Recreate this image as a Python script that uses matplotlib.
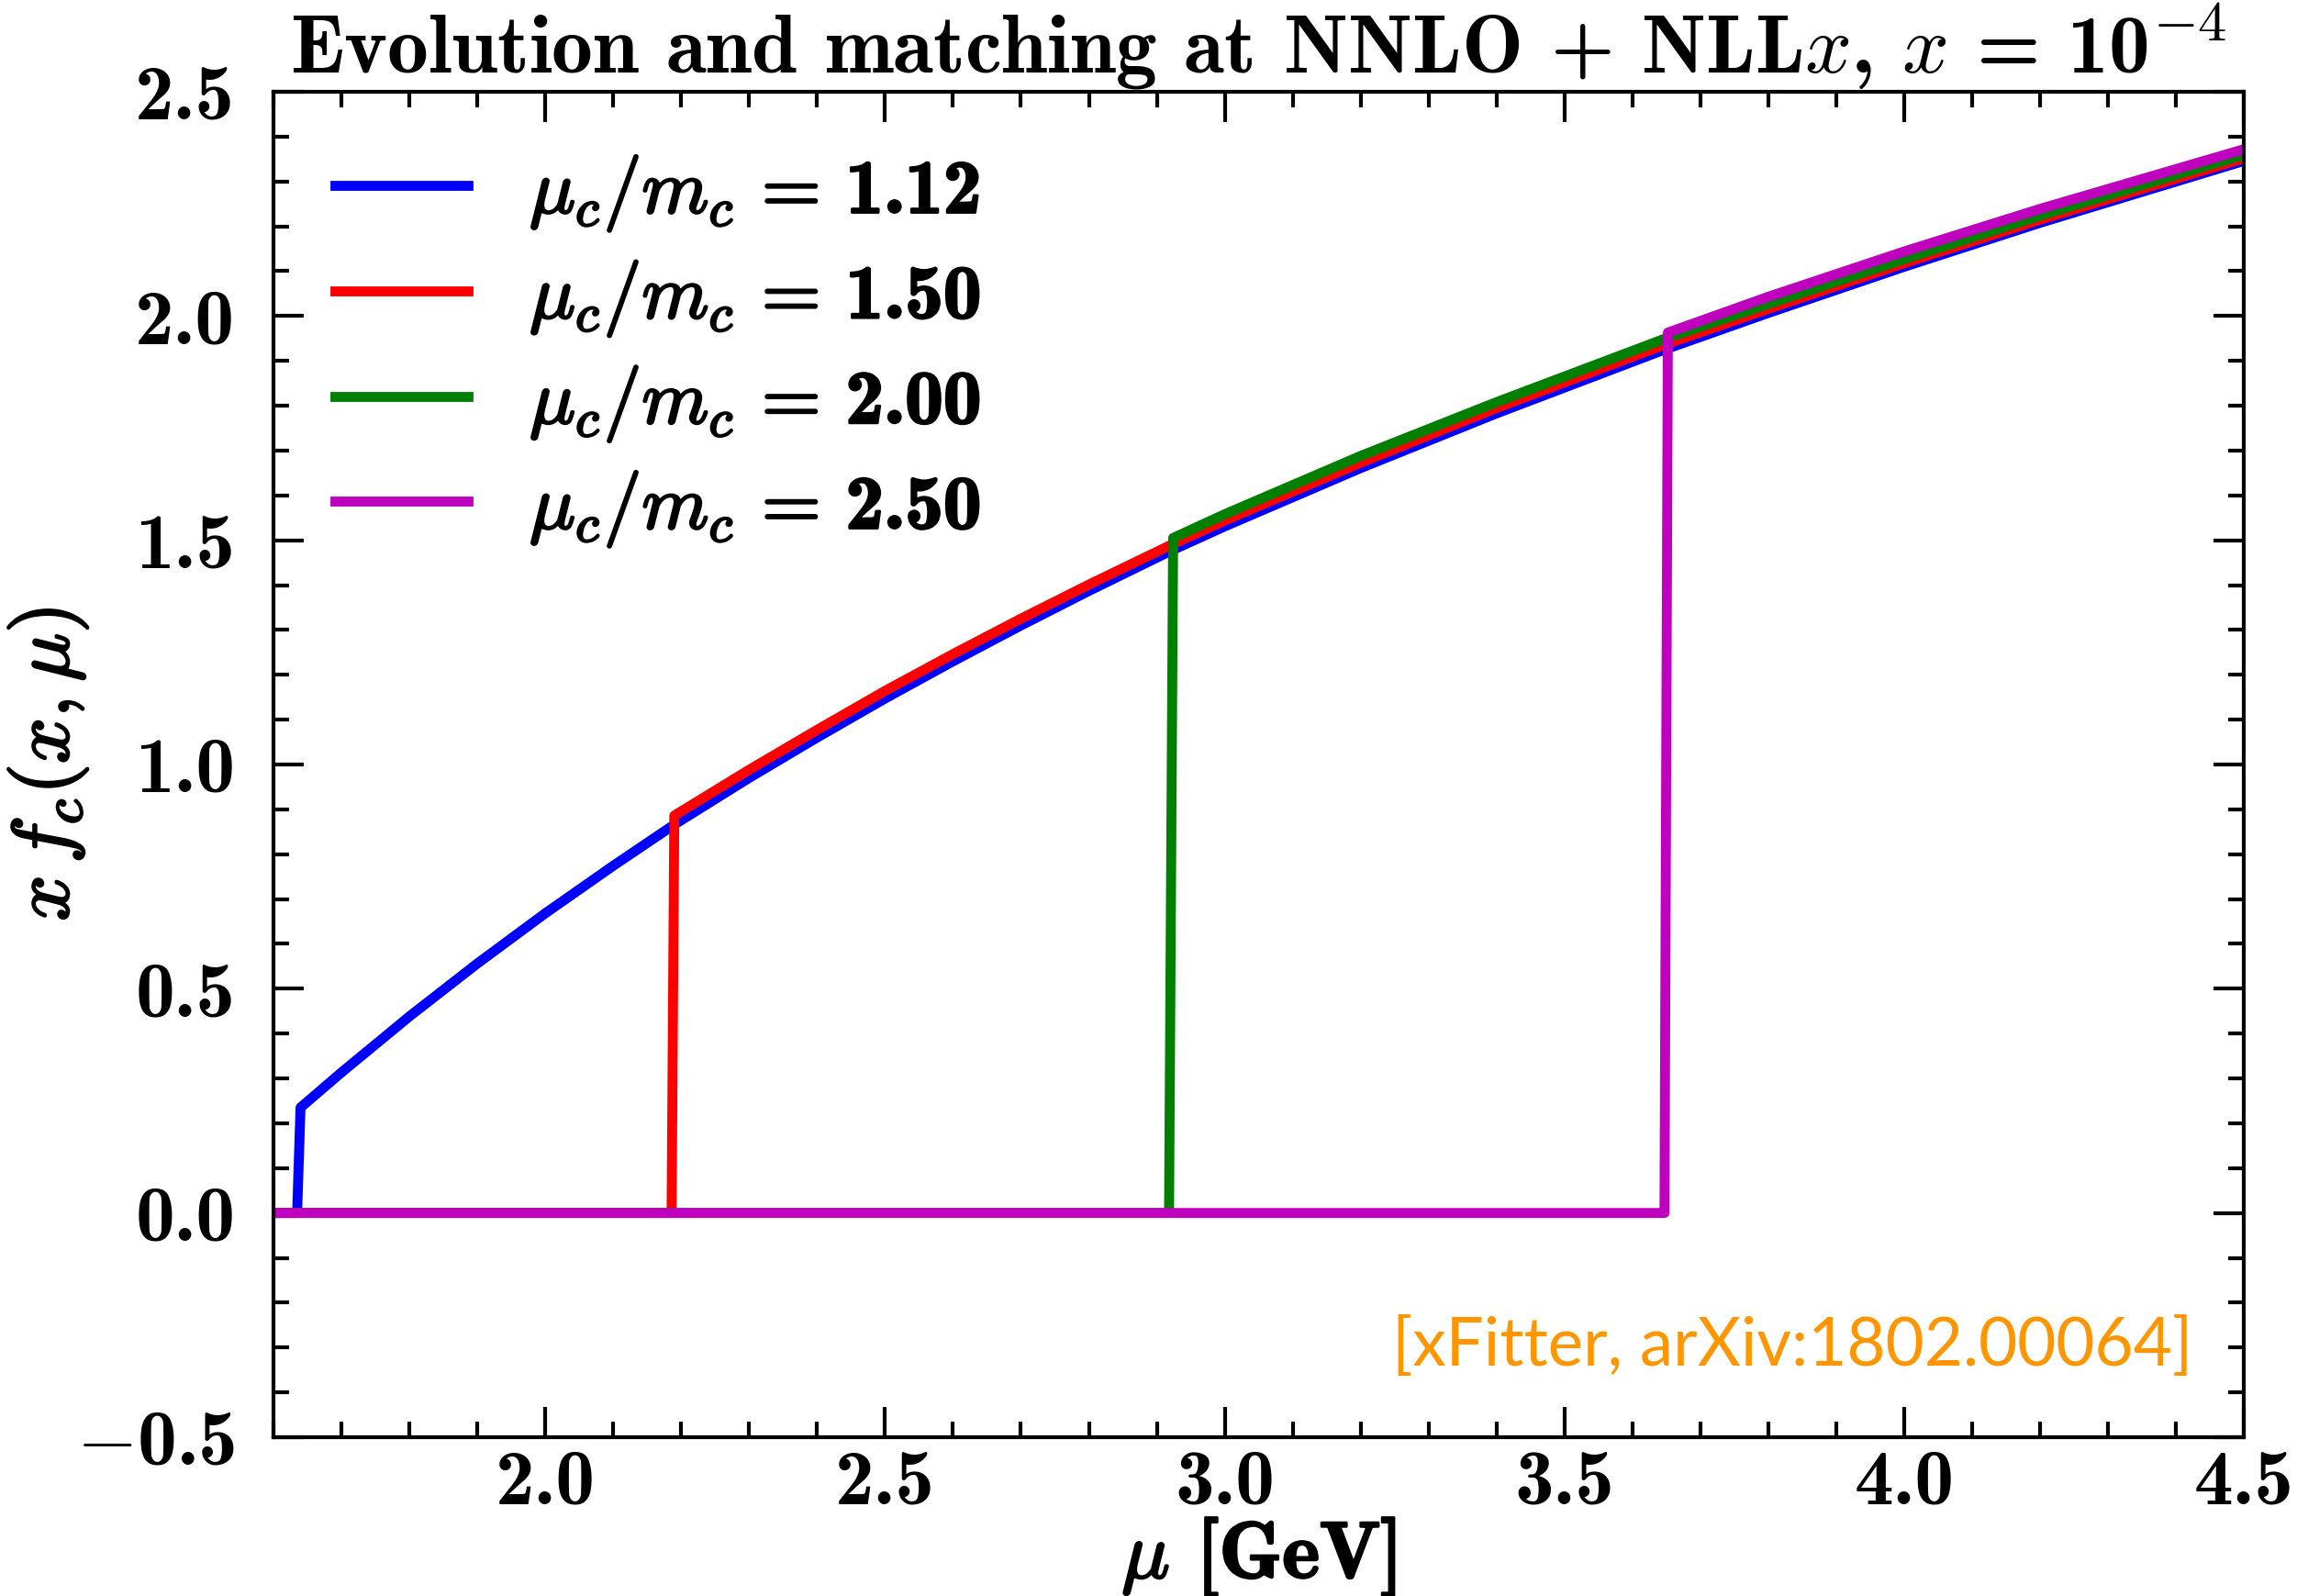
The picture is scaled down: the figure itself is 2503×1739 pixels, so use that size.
import matplotlib
matplotlib.use("Agg")
import matplotlib.pyplot as plt
import matplotlib.patheffects as pe
from matplotlib.ticker import MultipleLocator, FuncFormatter

# ==========================================
# 1. DATA: x f_c(x, mu) at x = 1e-4 for four matching scales
# ==========================================
LABELS = ["1.12", "1.50", "2.00", "2.50"]
COLORS = ["b", "r", "g", "m"]

# mu_c / m_c = 1.12
mu_112 = [1.600, 1.635, 1.640, 1.700, 1.800, 1.900, 2.000, 2.100, 2.190, 2.300,
          2.400, 2.500, 2.600, 2.700, 2.800, 2.920, 3.000, 3.200, 3.400, 3.645,
          3.800, 4.000, 4.200, 4.500]
xf_112 = [0.000, 0.000, 0.235, 0.313, 0.438, 0.556, 0.668, 0.774, 0.866, 0.970,
          1.060, 1.147, 1.230, 1.310, 1.387, 1.476, 1.531, 1.661, 1.783, 1.924,
          2.007, 2.110, 2.208, 2.346]

# mu_c / m_c = 1.50
mu_150 = [1.600, 2.186, 2.190, 2.300, 2.400, 2.500, 2.600, 2.700, 2.800, 2.920,
          3.000, 3.200, 3.400, 3.645, 3.800, 4.000, 4.200, 4.500]
xf_150 = [0.000, 0.000, 0.886, 0.988, 1.077, 1.164, 1.246, 1.325, 1.401, 1.489,
          1.544, 1.673, 1.795, 1.935, 2.016, 2.118, 2.215, 2.352]

# mu_c / m_c = 2.00
mu_200 = [1.600, 2.918, 2.924, 3.000, 3.200, 3.400, 3.645, 3.800, 4.000, 4.200, 4.500]
xf_200 = [0.000, 0.000, 1.505, 1.558, 1.688, 1.808, 1.948, 2.027, 2.127, 2.224, 2.360]

# mu_c / m_c = 2.50
mu_250 = [1.600, 3.647, 3.652, 3.800, 4.000, 4.200, 4.500]
xf_250 = [0.000, 0.000, 1.963, 2.043, 2.144, 2.239, 2.372]

CURVES = [(mu_112, xf_112), (mu_150, xf_150), (mu_200, xf_200), (mu_250, xf_250)]

# ==========================================
# 2. STYLE
# ==========================================
plt.rcParams["mathtext.fontset"] = "cm"
plt.rcParams["font.family"] = "serif"
plt.rcParams["font.serif"] = ["cmb10", "DejaVu Serif"]
plt.rcParams["axes.unicode_minus"] = False

TICK_FS = 20.5
LEG_FS = 20
bold_stroke = [pe.withStroke(linewidth=0.6, foreground="black")]


def tick_fmt(v, pos):
    # bold digits, math minus sign for negatives
    if v < 0:
        return r"$-$%.1f" % abs(v)
    return "%.1f" % v


# ==========================================
# 3. FIGURE
# ==========================================
fig = plt.figure(figsize=(2503 / 300, 1739 / 300), dpi=300)
ax = fig.add_axes([0.119, 0.0995, 0.858, 0.843])

for (mu, xf), lab, col in zip(CURVES, LABELS, COLORS):
    ax.plot(mu, xf, color=col, lw=2.6, label=r"$\mu_c/m_c\,=\,$" + lab)

ax.set_xlim(1.6, 4.5)
ax.set_ylim(-0.5, 2.5)

ax.xaxis.set_major_locator(MultipleLocator(0.5))
ax.xaxis.set_minor_locator(MultipleLocator(0.1))
ax.yaxis.set_major_locator(MultipleLocator(0.5))
ax.yaxis.set_minor_locator(MultipleLocator(0.1))
ax.xaxis.set_major_formatter(FuncFormatter(tick_fmt))
ax.yaxis.set_major_formatter(FuncFormatter(tick_fmt))

ax.tick_params(which="both", direction="in", top=True, right=True, width=1.0)
ax.tick_params(which="major", length=8, labelsize=TICK_FS)
ax.tick_params(which="minor", length=4)
ax.tick_params(axis="x", which="major", pad=3)
ax.tick_params(axis="y", which="major", pad=10)
for sp in ax.spines.values():
    sp.set_linewidth(1.0)

xl = ax.set_xlabel(r"$\mu$ [GeV]", fontsize=21)
yl = ax.set_ylabel(r"$x\,f_c(x,\mu)$", fontsize=21)
ax.xaxis.set_label_coords(0.5, -0.058)
ax.yaxis.set_label_coords(-0.093, 0.5)
xl.set_path_effects(bold_stroke)
yl.set_path_effects(bold_stroke)

ax.set_title(r"Evolution and matching at NNLO + NLL$x$, $x$ = 10$^{-4}$",
             fontsize=21.5, pad=5)

leg = ax.legend(loc="upper left", frameon=False, fontsize=LEG_FS,
                handlelength=1.75, handletextpad=0.8, labelspacing=0.32,
                borderaxespad=0.4)
for t in leg.get_texts():
    t.set_path_effects(bold_stroke)

ax.text(0.974, 0.053, "[xFitter, arXiv:1802.00064]", transform=ax.transAxes,
        ha="right", va="baseline", fontsize=17.5, color="#ff9600",
        family=["Lato", "DejaVu Sans"])

fig.savefig("out.png", dpi=300)
